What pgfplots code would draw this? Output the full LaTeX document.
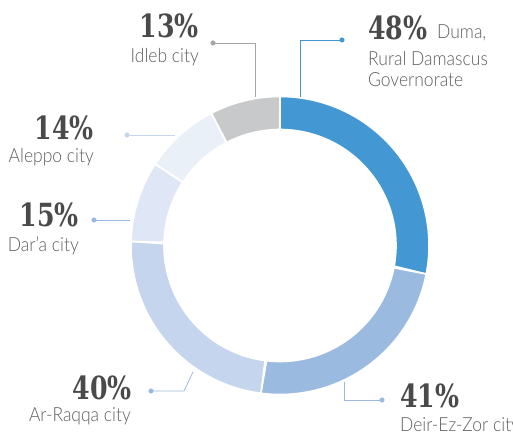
\documentclass[border=0pt]{standalone}
\usepackage{pgfplots}
\pgfplotsset{compat=1.18}
\usepackage{pgfplotstable}
\usepackage{fontspec}
\setmainfont{Lato}
\newfontfamily\numfont{DejaVu Serif Condensed Bold}[FakeStretch=0.88]
\newfontfamily\lblfont{Lato Light}[FakeStretch=0.9]
\definecolor{cDuma}{HTML}{4398D3}
\definecolor{cDeir}{HTML}{9BBAE0}
\definecolor{cRaqqa}{HTML}{C6D5EE}
\definecolor{cDara}{HTML}{DFE6F5}
\definecolor{cAleppo}{HTML}{EAF0F8}
\definecolor{cIdleb}{HTML}{C8C9CB}
\definecolor{cLead}{HTML}{9BBAE0}
\definecolor{cNum}{HTML}{4A4A4A}
\definecolor{cTxt}{HTML}{5E5E5E}

\pgfplotstableread{
name value
Duma 48
Deir 41
Raqqa 40
Dara 15
Aleppo 14
Idleb 13
}\piedata

\newcommand\num[1]{{\numfont\fontsize{32}{32}\selectfont #1}}
\newcommand\lbl[1]{{\lblfont\fontsize{19.5}{22}\selectfont #1}}
\tikzset{numnode/.style={inner sep=0, text=cNum, text depth=0pt},
         lblnode/.style={inner sep=0, text=cTxt, text height=14pt}}

% #1 start angle, #2 end angle, #3 colour
\newcommand\seg[3]{%
  \addplot[fill=#3, draw=white, line width=1.6pt, line join=round,
    domain=0:2, samples=241, variable=\t]
    ({280+(\t<=1.0001 ? 149 : 116)*cos(\t<=1.0001 ? #1+(#2-#1)*\t : #2+(#1-#2)*(\t-1))},
     {188.5+(\t<=1.0001 ? 149 : 116)*sin(\t<=1.0001 ? #1+(#2-#1)*\t : #2+(#1-#2)*(\t-1))}) -- cycle;
}

\begin{document}
\begin{tikzpicture}
\pgfmathsetmacro\total{171}
\pgfplotstablegetelem{0}{value}\of\piedata \pgfmathsetmacro\vA{\pgfplotsretval}
\pgfplotstablegetelem{1}{value}\of\piedata \pgfmathsetmacro\vB{\pgfplotsretval}
\pgfplotstablegetelem{2}{value}\of\piedata \pgfmathsetmacro\vC{\pgfplotsretval}
\pgfplotstablegetelem{3}{value}\of\piedata \pgfmathsetmacro\vD{\pgfplotsretval}
\pgfplotstablegetelem{4}{value}\of\piedata \pgfmathsetmacro\vE{\pgfplotsretval}
\pgfplotstablegetelem{5}{value}\of\piedata \pgfmathsetmacro\vF{\pgfplotsretval}
\pgfmathsetmacro\aA{90}
\pgfmathsetmacro\aB{\aA-\vA/\total*360}
\pgfmathsetmacro\aC{\aB-\vB/\total*360}
\pgfmathsetmacro\aD{\aC-\vC/\total*360}
\pgfmathsetmacro\aE{\aD-\vD/\total*360}
\pgfmathsetmacro\aF{\aE-\vE/\total*360}
\pgfmathsetmacro\aG{\aF-\vF/\total*360}
\begin{axis}[scale only axis, width=513bp, height=434bp,
  xmin=0, xmax=513, ymin=0, ymax=434, hide axis, clip=false]
\seg{\aA}{\aB}{cDuma}
\seg{\aB}{\aC}{cDeir}
\seg{\aC}{\aD}{cRaqqa}
\seg{\aD}{\aE}{cDara}
\seg{\aE}{\aF}{cAleppo}
\seg{\aF}{\aG}{cIdleb}

% leader lines
\addplot[cDuma, line width=0.8pt] coordinates {(342,394) (300,394) (300,337)};
\addplot[cDuma, only marks, mark=*, mark size=2.3pt] coordinates {(342,394)};
\addplot[gray!70, line width=0.8pt] coordinates {(213,391) (255,391) (255,337)};
\addplot[gray!70, only marks, mark=*, mark size=2.3pt] coordinates {(213,391)};
\addplot[cRaqqa, line width=0.8pt] coordinates {(127,299) (175,299)};
\addplot[cRaqqa, only marks, mark=*, mark size=2.3pt] coordinates {(127,299)};
\addplot[cLead, line width=0.8pt] coordinates {(94,214) (130,214)};
\addplot[cLead, only marks, mark=*, mark size=2.3pt] coordinates {(94,214)};
\addplot[cLead, line width=0.8pt] coordinates {(151,43) (184,43) (193,62)};
\addplot[cLead, only marks, mark=*, mark size=2.3pt] coordinates {(151,43)};
\addplot[cLead, line width=0.8pt] coordinates {(382,34) (344,34) (344,52)};
\addplot[cLead, only marks, mark=*, mark size=2.3pt] coordinates {(382,34)};

% labels
\node[anchor=base west, numnode] at (axis cs:368,394) {\num{48\%}};
\node[anchor=base west, lblnode] at (axis cs:437,395) {\lbl{Duma,}};
\node[anchor=base west, lblnode] at (axis cs:368,368) {\lbl{Rural Damascus}};
\node[anchor=base west, lblnode] at (axis cs:368,347) {\lbl{Governorate}};

\node[anchor=base east, numnode] at (axis cs:199,396) {\num{13\%}};
\node[anchor=base east, lblnode] at (axis cs:199,371) {\lbl{Idleb city}};

\node[anchor=base east, numnode] at (axis cs:94,294) {\num{14\%}};
\node[anchor=base east, lblnode] at (axis cs:94,271) {\lbl{Aleppo city}};

\node[anchor=base east, numnode] at (axis cs:79,207) {\num{15\%}};
\node[anchor=base east, lblnode] at (axis cs:79,182) {\lbl{Dar’a city}};

\node[anchor=base east, numnode] at (axis cs:132,34) {\num{40\%}};
\node[anchor=base east, lblnode] at (axis cs:131,12) {\lbl{Ar-Raqqa city}};

\node[anchor=base west, numnode] at (axis cs:400,26) {\num{41\%}};
\node[anchor=base west, lblnode] at (axis cs:400,2) {\lbl{Deir-Ez-Zor city}};
\end{axis}
\pgfresetboundingbox
\path (current axis.south west) rectangle (current axis.north east);
\end{tikzpicture}
\end{document}
